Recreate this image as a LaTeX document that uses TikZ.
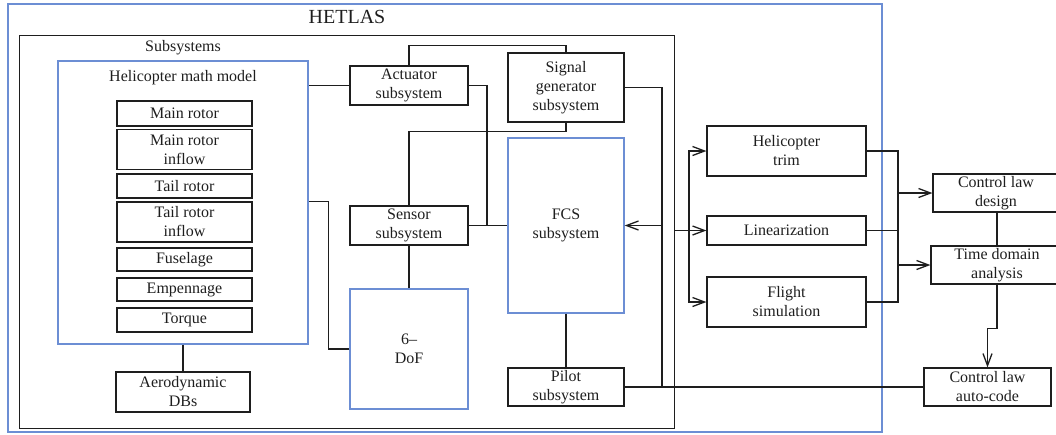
\documentclass[tikz,border=0pt]{standalone}
\usepackage{fontspec}
\setmainfont{Liberation Serif}
\usetikzlibrary{arrows.meta,calc}
\definecolor{frameblue}{RGB}{108,142,212}
\definecolor{ink}{RGB}{30,30,30}
\begin{document}
\begin{tikzpicture}[x=1pt,y=-1pt,
  txt/.style={font=\fontsize{16}{19}\selectfont, align=center, text=ink},
  blk/.style={txt, draw=ink, line width=1.2pt, inner sep=0pt},
  blu/.style={txt, draw=frameblue, line width=1.3pt, inner sep=0pt},
  wire/.style={draw=ink, line width=1.2pt},
  arr/.style={wire, -{Straight Barb[length=12pt,width=9pt,line width=1.3pt]}},
]
\clip (0,0) rectangle (1056,434);
% frames
\node[blu, minimum width=874, minimum height=428] (hetlas) at (445,218) {};
\node[blk, line width=1pt, minimum width=655, minimum height=393] (subs) at (346.5,231.5) {};
\node[blu, minimum width=250, minimum height=283] (math) at (183,202.5) {};
\node[txt, font=\fontsize{20}{24}\selectfont] (hetlaslbl) at (347,17) {HETLAS};
\node[txt] (subslbl) at (183,48) {Subsystems};
\node[txt] (mathlbl) at (183,78) {Helicopter math model};
% math model parts
\node[blk, minimum width=135, minimum height=25] (mr) at (184.5,113.5) {Main rotor};
\node[blk, minimum width=135, minimum height=40] (mri) at (184.5,149.5) {Main rotor\\inflow};
\node[blk, minimum width=135, minimum height=24] (tr) at (184.5,186) {Tail rotor};
\node[blk, minimum width=135, minimum height=40] (tri) at (184.5,222) {Tail rotor\\inflow};
\node[blk, minimum width=135, minimum height=23] (fus) at (184.5,259.5) {Fuselage};
\node[blk, minimum width=135, minimum height=23] (emp) at (184.5,289.5) {Empennage};
\node[blk, minimum width=135, minimum height=24] (tor) at (184.5,320) {Torque};
\node[blk, minimum width=134, minimum height=40] (aero) at (183,392) {Aerodynamic\\DBs};
% subsystems
\node[blk, minimum width=118, minimum height=39] (act) at (409,85.5) {Actuator\\subsystem};
\node[blk, minimum width=116, minimum height=69] (sig) at (566,87.5) {Signal\\generator\\subsystem};
\node[blu, minimum width=116, minimum height=175] (fcs) at (566,225.5) {FCS\\subsystem};
\node[blk, minimum width=118, minimum height=39] (sen) at (409,225.5) {Sensor\\subsystem};
\node[blu, minimum width=118, minimum height=120] (dof) at (409,349) {6--\\DoF};
\node[blk, minimum width=116, minimum height=38] (pil) at (566,387) {Pilot\\subsystem};
% tools
\node[blk, minimum width=159, minimum height=50] (trim) at (786.5,151) {Helicopter\\trim};
\node[blk, minimum width=159, minimum height=29] (lin) at (786.5,230.5) {Linearization};
\node[blk, minimum width=159, minimum height=50] (fs) at (786.5,302) {Flight\\simulation};
\node[blk, minimum width=126, minimum height=38] (cld) at (996,193) {Control law\\design};
\node[blk, minimum width=132, minimum height=38] (tda) at (997,265) {Time domain\\analysis};
\node[blk, minimum width=127, minimum height=38] (auto) at (987.5,387) {Control law\\auto-code};
% junction coordinates
\coordinate (j1) at (487,225.5);
\coordinate (b1) at (662,387);
\coordinate (b2) at (689,230.5);
\coordinate (b3) at (898,230.5);
% connectors inside subsystems
\draw[wire] (act.west) -- (act.west -| math.east);
\draw[wire] (act.north) -- ++(0,-20) -| (sig.north);
\draw[wire] (sen.east) -- (fcs.west);
\draw[wire] (act.east) -| (j1);
\draw[wire] (sig.south) -- ++(0,9) -| (sen.north);
\draw[wire] (dof.west) -- ++(-21,0) |- ($(math.north east)+(0,141)$);
\draw[wire] (sen.south) -- (dof.north);
\draw[wire] (fcs.south) -- (pil.north);
\draw[wire] (math.south) -- (aero.north);
\draw[wire] (sig.east) -| (b1);
\draw[arr] (b1 |- fcs.east) -- (fcs.east);
\draw[wire] (pil.east) -- (auto.west);
% tools
\draw[wire] (subs.east |- lin.west) -- (b2);
\draw[arr] (b2) -- (lin.west);
\draw[arr] (b2) |- (trim.west);
\draw[arr] (b2) |- (fs.west);
\draw[wire] (trim.east) -| (b3);
\draw[wire] (fs.east) -| (b3);
\draw[wire] (lin.east) -- (b3);
\draw[arr] (b3 |- cld.west) -- (cld.west);
\draw[arr] (b3 |- tda.west) -- (tda.west);
\draw[wire] (cld.south -| tda.north) -- (tda.north);
\draw[arr] (tda.south) -- ++(0,44) -| (auto.north);
\end{tikzpicture}
\end{document}
